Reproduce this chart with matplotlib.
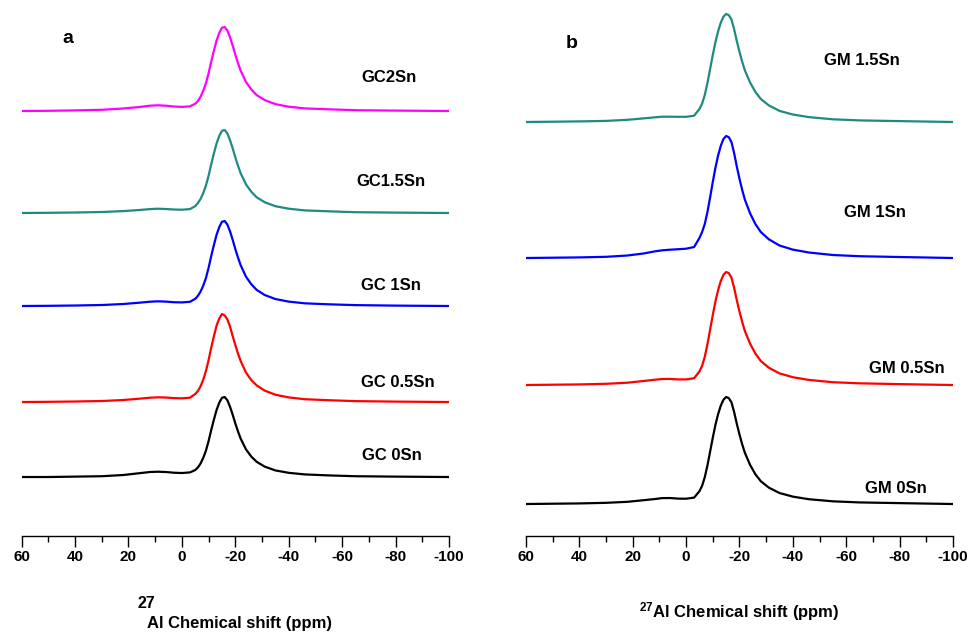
import matplotlib
matplotlib.use("Agg")
import matplotlib.pyplot as plt
from matplotlib.ticker import MultipleLocator

plt.rcParams['font.family'] = ['Liberation Sans Narrow', 'Liberation Sans', 'DejaVu Sans']
plt.rcParams['font.weight'] = 'bold'
plt.rcParams['mathtext.default'] = 'regular'
plt.rcParams['axes.unicode_minus'] = False

# chemical shift grid (ppm), shared by every trace
ppm = [60, 50, 40, 30, 22, 16, 12, 9, 6, 3, 0, -3,
       -5, -6, -7, -8, -9, -10, -11, -12, -13, -14, -15, -16, -17, -18, -19, -20, -21, -22,
       -24, -26, -28, -31, -35, -40, -46, -55, -65, -80, -100]

# panel a - intensities (a.u.)
gc_0sn = [0, 0, 0.4, 0.8, 2.0, 3.8, 5.0, 5.3, 5.0, 4.3, 4.0, 4.6,
          7.0, 9.6, 13.6, 19.2, 26.4, 36, 47.2, 57.6, 67.2, 74.4, 79.2, 80, 76.8, 70.4, 62.4, 53.6, 45.6, 38.4,
          27.6, 20.4, 15.2, 10.4, 6.6, 4.2, 2.6, 1.6, 0.8, 0.4, 0]
gc_05sn = [0, 0.2, 0.5, 1.0, 2.0, 3.3, 4.3, 4.7, 4.5, 3.9, 3.7, 4.3,
           8, 11, 15.8, 22.4, 31, 42, 54.6, 66, 76.6, 83.6, 88, 86.7, 82.7, 75.7, 66, 57, 48.4, 41,
           29.4, 21.9, 16.6, 11.4, 7.3, 4.6, 2.8, 1.8, 0.9, 0.4, 0]
gc_1sn = [0, 0.2, 0.5, 1.0, 2.0, 3.3, 4.3, 4.7, 4.4, 3.8, 3.6, 4.2,
          7.2, 10.2, 14.5, 20.4, 28, 38.3, 50.2, 61.2, 71.4, 79, 84.2, 85, 81.6, 74.8, 66.3, 57, 48.5, 40.8,
          29.3, 21.7, 16.1, 11.0, 7.0, 4.4, 2.7, 1.7, 0.9, 0.4, 0]
gc_15sn = [0, 0.2, 0.5, 1.0, 1.9, 3.0, 3.9, 4.3, 4.0, 3.5, 3.3, 3.9,
           6.9, 10, 14.1, 19.9, 27.4, 37.4, 49, 59.8, 69.7, 77.2, 82.2, 83, 79.7, 73, 64.7, 55.6, 47.3, 39.8,
           28.6, 21.2, 15.7, 10.8, 6.8, 4.3, 2.6, 1.7, 0.8, 0.4, 0]
gc_2sn = [0, 0.2, 0.6, 1.2, 2.5, 4.0, 5.3, 5.7, 5.3, 4.5, 4.1, 4.6,
          7.3, 10.1, 14.3, 20.2, 27.7, 37.8, 49.6, 60.5, 70.6, 78.1, 83.2, 84, 80.6, 73.9, 65.5, 56.3, 47.9, 40.3,
          29.0, 21.4, 15.9, 10.9, 6.9, 4.3, 2.6, 1.7, 0.8, 0.4, 0]

# panel b
gm_0sn = [0, 0.3, 0.6, 1.2, 2.2, 3.8, 4.9, 5.9, 6.0, 5.4, 5.3, 6.4,
          12.8, 18.2, 26.8, 38.5, 52.4, 66.3, 79.2, 89.9, 98.4, 104.3, 107, 105.9, 101.7, 92, 80.3, 69.6, 59.9, 51.4,
          39.0, 29.6, 22.8, 16.4, 11.0, 7.4, 4.8, 2.7, 1.6, 0.9, 0]
gm_05sn = [0, 0.3, 0.6, 1.2, 2.3, 4.0, 5.2, 6.0, 6.1, 5.6, 5.6, 6.8,
           13.5, 19.2, 28.2, 40.7, 55.4, 70, 83.6, 94.9, 104, 110.2, 113, 111.9, 107.4, 97.2, 84.8, 73.5, 63.3, 54.2,
           41.2, 31.3, 24.0, 17.3, 11.6, 7.8, 5.1, 2.8, 1.7, 0.9, 0]
gm_1sn = [0, 0.3, 0.6, 1.2, 2.5, 4.5, 6.5, 7.7, 8.3, 8.8, 9.3, 11,
          20, 26, 34, 46, 60.5, 76, 90.3, 102.5, 112.2, 119, 122, 120.8, 115.9, 104.9, 91.5, 79.3, 68.3, 58.6,
          44.5, 33.8, 26.0, 18.7, 12.5, 8.4, 5.5, 3.0, 1.8, 1.0, 0]
gm_15sn = [0, 0.3, 0.6, 1.1, 2.2, 3.6, 4.6, 5.3, 5.3, 5.2, 5.2, 6.3,
           13, 18.4, 27, 38.9, 52.9, 67, 79.9, 90.7, 99.4, 105.3, 108, 106.9, 102.6, 92.9, 81, 70.2, 60.5, 51.8,
           39.4, 29.9, 23.0, 16.6, 11.1, 7.5, 4.9, 2.7, 1.6, 0.9, 0]

names_a = ["GC 0Sn", "GC 0.5Sn", "GC 1Sn", "GC1.5Sn", "GC2Sn"]
names_b = ["GM 0Sn", "GM 0.5Sn", "GM 1Sn", "GM 1.5Sn"]
series_a = [gc_0sn, gc_05sn, gc_1sn, gc_15sn, gc_2sn]
series_b = [gm_0sn, gm_05sn, gm_1sn, gm_15sn]

# stacking offsets and label positions
offsets_a = [59, 134, 230, 323, 425]
offsets_b = [32, 151, 278, 414]
labpos_a = [(-78.7, 81), (-80.9, 154), (-78.3, 251), (-78.3, 355), (-77.6, 459)]
labpos_b = [(-78.6, 48), (-82.8, 168), (-70.8, 324), (-65.9, 476)]

cores_a = ["black", "#FF0000", "#0000FF", "#1E8A80", "#FF00FF"]
cores_b = ["black", "#FF0000", "#0000FF", "#1E8A80"]

fig = plt.figure(figsize=(9.67, 6.33), dpi=100)
ax_a = fig.add_axes([0.0224, 0.1532, 0.4419, 0.8468])
ax_b = fig.add_axes([0.5439, 0.1532, 0.4416, 0.8468])


def desenha(ax, series, offsets, nomes, posicoes, cores, letra, ly):
    for y, off, nome, (tx, ty), cor in zip(series, offsets, nomes, posicoes, cores):
        ax.plot(ppm, [v + off for v in y], color=cor, lw=1.6)
        ax.text(tx, ty, nome, ha='center', va='center', fontsize=12, fontweight='bold')
    ax.text(0.108, ly, letra, transform=ax.transAxes, ha='center', va='center',
            fontsize=14, fontweight='bold')

    ax.set_xlim(60, -100)
    ax.set_ylim(0, 536)
    for s in ['left', 'right', 'top']:
        ax.spines[s].set_visible(False)
    ax.spines['bottom'].set_linewidth(1.0)
    ax.set_yticks([])
    ax.xaxis.set_major_locator(MultipleLocator(20))
    ax.xaxis.set_minor_locator(MultipleLocator(10))
    ax.tick_params(axis='x', which='major', length=8, width=1, pad=2, labelsize=11)
    ax.tick_params(axis='x', which='minor', length=4.5, width=1)
    for lab in ax.get_xticklabels():
        lab.set_fontweight('bold')


desenha(ax_a, series_a, offsets_a, names_a, labpos_a, cores_a, "a", 0.928)
desenha(ax_b, series_b, offsets_b, names_b, labpos_b, cores_b, "b", 0.918)

# panel a: the "27" sits high and full size, the rest of the label lower
ax_a.set_xlabel("Al Chemical shift (ppm)", fontsize=12, fontweight='bold')
ax_a.xaxis.set_label_coords(0.51, -0.149)
ax_a.text(0.312, -0.126, "27", transform=ax_a.transAxes, ha='right', va='center',
          fontsize=11.5, fontweight='bold')
ax_b.set_xlabel(r"$\mathregular{^{27}}$Al Chemical shift (ppm)", fontsize=12, fontweight='bold', labelpad=26)

fig.savefig("out.png", dpi=100)
